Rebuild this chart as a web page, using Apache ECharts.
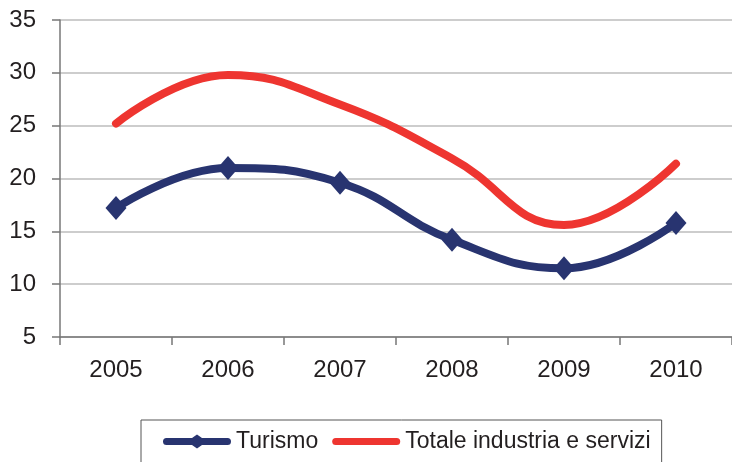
<!DOCTYPE html>
<html>
<head>
<meta charset="utf-8">
<script src="https://cdn.jsdelivr.net/npm/echarts@6/dist/echarts.min.js"></script>
<style>
  html, body { margin: 0; padding: 0; background: #fff; }
  #chart { width: 732px; height: 462px; }
</style>
</head>
<body>
<div id="chart"></div>
<script>
// dati
const anni = ['2005', '2006', '2007', '2008', '2009', '2010'];
const turismo = [17.2, 21.0, 19.6, 14.2, 11.5, 15.8];
const totale = [25.2, 29.8, 27.0, 21.9, 15.6, 21.4];

let chart = echarts.init(document.getElementById('chart'));
let font = 'Liberation Sans, Arial, sans-serif';
let blu = '#283470';
let rosso = '#ee3530';

let option = {
  backgroundColor: '#fff',
  animation: false,
  textStyle: { fontFamily: font },
  grid: {
    left: 60,
    right: -7,
    top: 20,
    bottom: 125
  },
  legend: {
    top: 420,
    left: 141,
    padding: [10, 11, 40, 22],
    borderColor: '#555',
    borderWidth: 1,
    itemWidth: 68,
    itemHeight: 14,
    itemGap: 14,
    symbolKeepAspect: true,
    itemStyle: { borderWidth: 0 },
    textStyle: { fontSize: 23, color: '#231f20', fontFamily: font },
    data: [
      // linea con rombo al centro
      { name: 'Turismo', icon: 'path://M3.5,3.5 L29,3.5 L34,0 L39,3.5 L64.5,3.5 A3.5,3.5 0 0 1 64.5,10.5 L39,10.5 L34,14 L29,10.5 L3.5,10.5 A3.5,3.5 0 0 1 3.5,3.5 Z' },
      { name: 'Totale industria e servizi', icon: 'path://M3.5,3.5 L64.5,3.5 A3.5,3.5 0 0 1 64.5,10.5 L3.5,10.5 A3.5,3.5 0 0 1 3.5,3.5 Z' }
    ]
  },
  xAxis: {
    type: 'category',
    data: anni,
    boundaryGap: true,
    axisLine: { lineStyle: { color: '#777', width: 1.5 } },
    axisTick: { show: true, length: 8, lineStyle: { color: '#777', width: 1.5 } },
    axisLabel: { fontSize: 24, color: '#231f20', margin: 21, fontFamily: font }
  },
  yAxis: {
    type: 'value',
    min: 5,
    max: 35,
    interval: 5,
    axisLine: { show: true, lineStyle: { color: '#777', width: 1.5 } },
    axisTick: { show: true, length: 8, lineStyle: { color: '#777', width: 1.5 } },
    axisLabel: { fontSize: 24, color: '#231f20', margin: 24, fontFamily: font },
    splitLine: { lineStyle: { color: '#bdbdbd', width: 1.5 } }
  },
  series: [
    {
      name: 'Totale industria e servizi',
      type: 'line',
      data: totale,
      smooth: 0.45,
      showSymbol: false,
      symbol: 'none',
      color: rosso,
      lineStyle: { width: 8, color: rosso, cap: 'round' }
    },
    {
      name: 'Turismo',
      type: 'line',
      data: turismo,
      smooth: 0.45,
      symbol: 'diamond',
      symbolSize: [21, 24],
      color: blu,
      itemStyle: { color: blu },
      lineStyle: { width: 8, color: blu, cap: 'round' }
    }
  ]
};

chart.setOption(option);
window.onresize = function () {
  chart.resize();
};
</script>
</body>
</html>
